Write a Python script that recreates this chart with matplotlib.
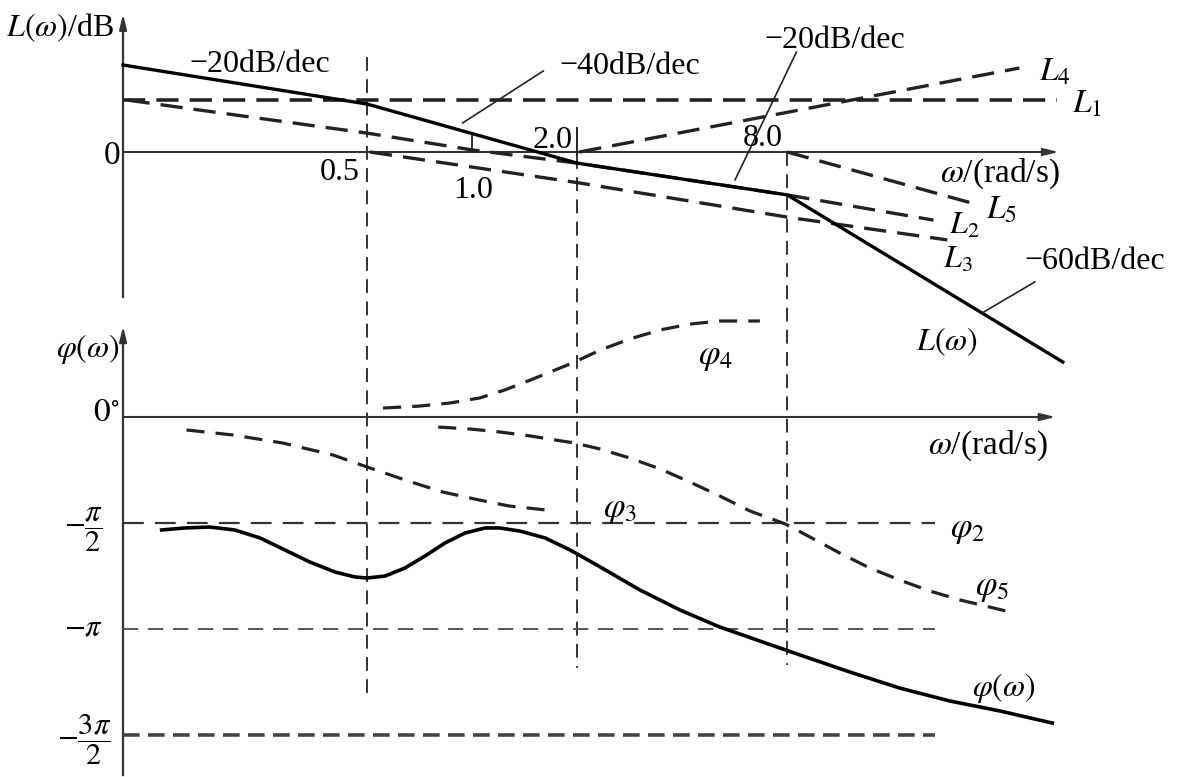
import matplotlib.pyplot as plt

plt.rcParams['mathtext.fontset'] = 'stix'
plt.rcParams['font.family'] = ['Liberation Serif', 'DejaVu Serif']
plt.rcParams['lines.scale_dashes'] = False

# corner frequencies and frequency labels (rad/s)
w_corner = [0.5, 2.0, 8.0]
w_tick = [0.5, 1.0, 2.0, 8.0]
w_tick_txt = ['0.5', '1.0', '2.0', '8.0']

# magnitude asymptotes (dB)
w_L = [0.1, 0.5, 2.0, 8.0, 49.3]
L_db = [29, 16, -3.7, -14.3, -70]
w_L1 = [0.1, 47.5]
L1_db = [17.3, 17.3]
w_L2 = [0.51, 2.03, 8.0, 23]
L2_db = [0, -10.3, -21.7, -29.3]
w_L3 = [0.103, 0.5, 1.0, 2.0, 8.0, 21]
L3_db = [17.3, 6.3, 0.7, -3.7, -14.3, -22.7]
w_L4 = [2.03, 37]
L4_db = [0, 28]
w_L5 = [8.0, 27]
L5_db = [0, -17]

# phase curves (degrees)
w_phi = [0.129, 0.150, 0.177, 0.209, 0.247, 0.291, 0.343, 0.405, 0.462, 0.5,
         0.563, 0.642, 0.733, 0.836, 0.954, 1.09, 1.20, 1.37, 1.62, 1.91,
         2.33, 3.03, 3.94, 5.13, 6.68, 8.70, 12.1, 16.8, 23.4, 32.6, 46]
phi = [-95.9, -94.2, -93.4, -95.9, -102.7, -112.9, -123.1, -131.6, -135.8, -136.7,
       -135.0, -128.2, -118.0, -107.0, -98.5, -94.2, -94.2, -96.8, -102.7, -112.9,
       -127.3, -146.9, -163.8, -178.3, -190.2, -202.0, -216.5, -230.1, -241.1, -249.6, -259.8]
w_phi3 = [0.152, 0.207, 0.287, 0.40, 0.5, 0.655, 0.825, 1.05, 1.28, 1.64]
phi3 = [-11, -15.3, -22.1, -32.3, -42.4, -54.3, -63.7, -70.5, -75.6, -79]
w_phi4 = [0.556, 0.709, 0.865, 1.05, 1.24, 1.47, 1.73, 1.97, 2.33, 2.83, 3.46, 4.21, 5.13, 6.68]
phi4 = [7.6, 9.3, 11.9, 16.1, 22.9, 31.4, 39.9, 46.7, 56.9, 66.2, 73.9, 78.9, 81.5, 81.5]
w_phi5 = [0.80, 0.987, 1.20, 1.47, 1.73, 1.97, 2.33, 2.83, 3.46, 4.21, 5.13, 6.26, 7.9,
          9.30, 11.3, 13.8, 16.8, 20.5, 25.0, 29.5, 34.8]
phi5 = [-8.5, -10.2, -12.7, -16.1, -19.5, -22.1, -27.2, -34.8, -44.1, -55.2, -67.1, -79.8, -90.8,
        -101.9, -115.4, -128.2, -138.4, -147.7, -155.3, -160.4, -165.5]
phi_ref = [-90, -180, -270]

W, H = 1192, 777
fig = plt.figure(figsize=(W / 100, H / 100), dpi=100)
ax = fig.add_axes([0, 0, 1, 1])
ap = fig.add_axes([0, 0, 1, 1])
for a in (ax, ap):
    a.set_xscale('log')
    a.set_xlim(0.0444, 115.6)
    a.axis('off')
    a.patch.set_alpha(0)
ax.set_ylim(-208.33, 50.67)
ap.set_ylim(-305.6, 354)


def t(x, y, s, size=23, **kw):
    fig.text(x / W, 1 - y / H, s, fontsize=size, ha='center', va='center', **kw)


axc = '#333333'
arrow = dict(arrowstyle='-|>,head_length=0.9,head_width=0.22', color=axc, lw=1.5, shrinkA=0, shrinkB=0)

# magnitude axes
ax.plot([0.1, 0.1], [-48.3, 40], color=axc, lw=1.6)
ax.annotate('', xy=(0.1, 46), xytext=(0.1, 38), arrowprops=arrow)
ax.plot([0.1, 45], [0, 0], color=axc, lw=1.5)
ax.annotate('', xy=(48, 0), xytext=(42, 0), arrowprops=arrow)

# phase axes
ap.plot([0.1, 0.1], [-304, 65], color=axc, lw=1.6)
ap.annotate('', xy=(0.1, 77), xytext=(0.1, 60), arrowprops=arrow)
ap.plot([0.1, 44], [0, 0], color=axc, lw=1.5)
ap.annotate('', xy=(47, 0), xytext=(41, 0), arrowprops=arrow)

# reference phase levels
ap.plot([0.1, 21.2], [phi_ref[0]] * 2, color='#333333', lw=1.6, dashes=(15, 8))
ap.plot([0.1, 21.2], [phi_ref[1]] * 2, color='#555555', lw=1.4, dashes=(11, 7))
ap.plot([0.1, 21.2], [phi_ref[2]] * 2, color='#444444', lw=2.6, dashes=(12, 6))

# vertical guide lines at corner frequencies
ax.plot([w_corner[0]] * 2, [31.7, -181], color='#333333', lw=1.4, dashes=(10, 6))
ax.plot([w_corner[1]] * 2, [8, -1], color='#222222', lw=1.4)
ax.plot([w_corner[1]] * 2, [-1, -172], color='#333333', lw=1.4, dashes=(10, 6))
ax.plot([w_corner[2]] * 2, [0, -171], color='#333333', lw=1.4, dashes=(10, 6))
ax.plot([w_tick[1]] * 2, [6.0, 0], color='#222222', lw=1.3)

# magnitude asymptotes
dash_L = (16, 8)
ax.plot(w_L1, L1_db, color='#222222', lw=2.6, dashes=dash_L)
ax.plot(w_L3, L3_db, color='#222222', lw=2.4, dashes=dash_L)
ax.plot(w_L2, L2_db, color='#222222', lw=2.4, dashes=dash_L)
ax.plot(w_L4, L4_db, color='#222222', lw=2.4, dashes=dash_L)
ax.plot(w_L5, L5_db, color='#222222', lw=2.4, dashes=dash_L)
ax.plot(w_L, L_db, color='black', lw=2.4)

# leader lines for slope notes
ax.plot([0.94, 1.6], [9.7, 27], color='#222222', lw=1.2)
ax.plot([5.67, 8.5], [-9.3, 33.3], color='#222222', lw=1.2)
ax.plot([28.9, 41], [-53.7, -43.3], color='#222222', lw=1.2)

# phase curves
dash_p = (13, 8)
kw = dict(solid_joinstyle='round', dash_joinstyle='round')
ap.plot(w_phi3, phi3, color='#222222', lw=2.3, dashes=dash_p, **kw)
ap.plot(w_phi4, phi4, color='#222222', lw=2.3, dashes=dash_p, **kw)
ap.plot(w_phi5, phi5, color='#222222', lw=2.3, dashes=dash_p, **kw)
ap.plot(w_phi, phi, color='black', lw=2.6, **kw)

# texts, magnitude part
t(60, 28, r'$L(\omega)$/dB')
t(112, 156, '0', size=24)
t(340, 172, w_tick_txt[0])
t(473, 190, w_tick_txt[1])
t(553, 140, w_tick_txt[2])
t(763, 139, w_tick_txt[3])
t(1000, 174, r'$\omega$/(rad/s)', size=24)
t(260, 64, '−20dB/dec')
t(630, 67, '−40dB/dec')
t(835, 40, '−20dB/dec')
t(1095, 262, '−60dB/dec')
t(947, 342, r'$L(\omega)$', size=23)
t(1055, 72, r'$L_4$', size=24)
t(1087, 104, r'$L_1$', size=24)
t(1002, 210, r'$L_5$', size=24)
t(964, 226, r'$L_2$', size=23)
t(958, 260, r'$L_3$', size=23)

# texts, phase part
t(88, 349, r'$\varphi(\omega)$', size=23)
t(106, 413, r'$0^{\circ}$', size=24)
t(84, 530, r'$-\dfrac{\pi}{2}$', size=22)
t(84, 628, r'$-\pi$', size=22)
t(84, 740, r'$-\dfrac{3\pi}{2}$', size=22)
t(988, 446, r'$\omega$/(rad/s)', size=24)
t(715, 356, r'$\varphi_4$', size=25)
t(620, 510, r'$\varphi_3$', size=25)
t(968, 530, r'$\varphi_2$', size=25)
t(992, 588, r'$\varphi_5$', size=25)
t(1004, 688, r'$\varphi(\omega)$', size=23)

fig.savefig('out.png', dpi=100, facecolor='white')
